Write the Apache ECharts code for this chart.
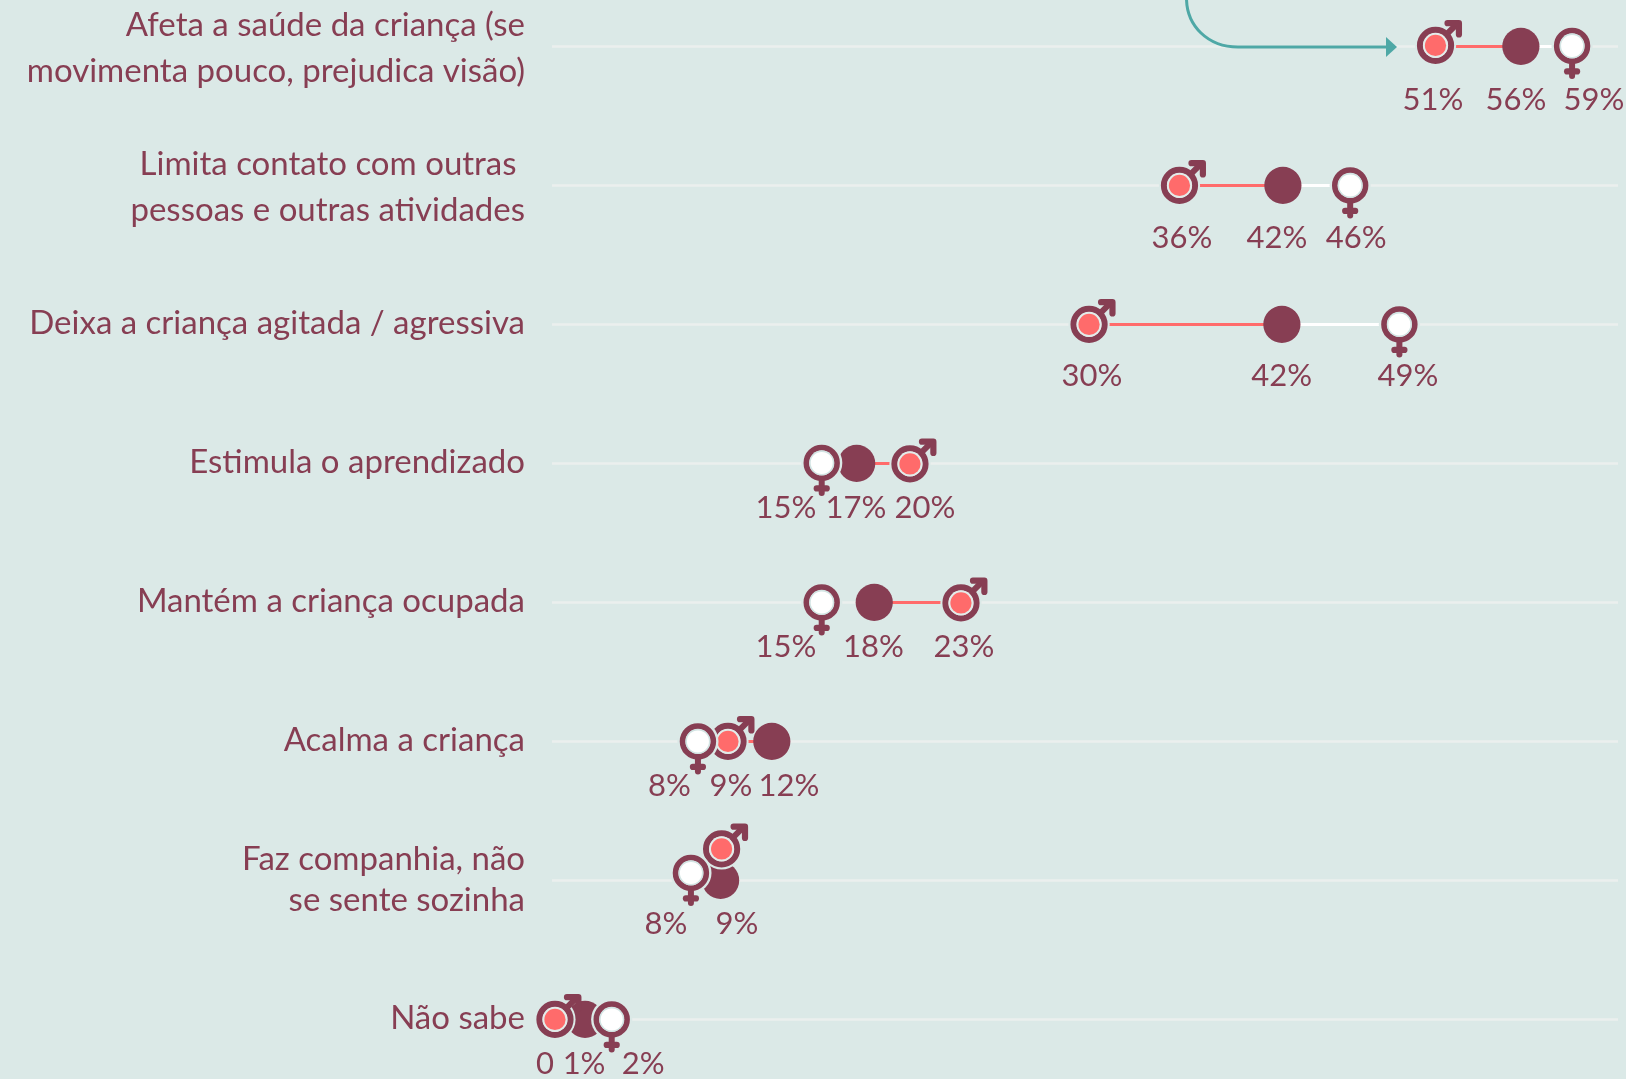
<!DOCTYPE html>
<html lang="pt">
<head>
<meta charset="utf-8">
<style>html,body{margin:0;padding:0;background:#dbe9e7}#c{width:1626px;height:1079px}</style>
<script src="https://cdn.jsdelivr.net/npm/echarts@6/dist/echarts.min.js"></script>
</head>
<body>
<div id="c"></div>
<script>
// ---------- data ----------
const categories = [
  'Afeta a saúde da criança (se\nmovimenta pouco, prejudica visão)',
  'Limita contato com outras \npessoas e outras atividades',
  'Deixa a criança agitada / agressiva',
  'Estimula o aprendizado',
  'Mantém a criança ocupada',
  'Acalma a criança',
  'Faz companhia, não\nse sente sozinha',
  'Não sabe'
];
const maleValues   = [51, 36, 30, 20, 23,  9, 9, 0];
const totalValues  = [56, 42, 42, 17, 18, 12, 9, 1];
const femaleValues = [59, 46, 49, 15, 15,  8, 8, 2];
const maleLabels   = ['51%', '36%', '30%', '20%', '23%', '9%', '', '0'];
const totalLabels  = ['56%', '42%', '42%', '17%', '18%', '12%', '9%', '1%'];
const femaleLabels = ['59%', '46%', '49%', '15%', '15%', '8%', '8%', '2%'];

// ---------- presentation: dodges applied by the original to avoid overlaps ----------
const maleDodgeX   = [0, 0, 12, 3.6, 3.4, 9.4, 3, -10];
const totalDodgeX  = [0, 1, 0, 1.5, 2, 2, 2, 3];
const femaleDodgeX = [0, 0, -2, 0.7, 0.7, -3.6, -10.6, 12.6];
const maleDodgeY   = [-1, 0, 0, 0.5, 0.5, 0, -31.5, 0];
const femaleDodgeY = [-0.5, 0, 0, -0.5, 0, 0, -7.5, 0];
const maleLabelDX   = [-2.6, 2.5, 14.9, 18.6, 6.4, 12.4, 0, -20];
const totalLabelDX  = [-4.9, -4.9, -0.3, 0.8, 1.3, 19.2, 18.4, 2];
const femaleLabelDX = [21.9, 6, 6.6, -35, -35, -32, -35.6, 44];
const labelDY = [53.5, 53, 51.5, 44.5, 44.5, 44.5, 43.5, 44.5];

const BG = '#dbe9e7', INK = '#873e53', SALMON = '#ff6b6b', GRID = '#ebefee', TEAL = '#4ea8a6';
const FONT = 'Lato';
const R = 18.6;

const seriesData = vals => vals.map((v, i) => [v, i]);

function dot(cx, cy, r, fill) {
  return { type: 'circle', shape: { cx, cy, r }, style: { fill } };
}
function ring(cx, cy, r, w) {
  return { type: 'circle', shape: { cx, cy, r: r - w / 2 }, style: { fill: 'none', stroke: INK, lineWidth: w } };
}
function seg(x1, y1, x2, y2, w) {
  return { type: 'line', shape: { x1, y1, x2, y2 }, style: { stroke: INK, lineWidth: w, lineCap: 'round' } };
}

const renderTotal = (p, api) => {
  const c = api.coord([api.value(0), api.value(1)]);
  return dot(c[0] + totalDodgeX[p.dataIndex], c[1], R, INK);
};
const renderMale = (p, api) => {
  const c = api.coord([api.value(0), api.value(1)]);
  const x = c[0] + maleDodgeX[p.dataIndex], y = c[1] + maleDodgeY[p.dataIndex];
  return { type: 'group', children: [
    dot(x, y, R + 2, BG),
    seg(x + 12, y - 12, x + 21, y - 21, 6),
    { type: 'polyline', shape: { points: [[x + 12, y - 22.2], [x + 23.4, y - 22.2], [x + 23.4, y - 11]] },
      style: { fill: 'none', stroke: INK, lineWidth: 6.2, lineJoin: 'round', lineCap: 'round' } },
    ring(x, y, R, 6.2),
    dot(x, y, 12.6, '#e3ecea'),
    dot(x, y, 10.6, SALMON)
  ]};
};
const renderFemale = (p, api) => {
  const c = api.coord([api.value(0), api.value(1)]);
  const x = c[0] + femaleDodgeX[p.dataIndex], y = c[1] + femaleDodgeY[p.dataIndex];
  return { type: 'group', children: [
    dot(x, y, R + 2, BG),
    seg(x, y + 18, x, y + 30, 6),
    seg(x - 5, y + 25.5, x + 5, y + 25.5, 6.2),
    ring(x, y, 18.2, 5.8),
    dot(x, y, 12.6, '#d2e4e3'),
    dot(x, y, 11, '#ffffff')
  ]};
};
const renderConnectors = (p, api) => {
  const i = p.dataIndex;
  const y = api.coord([0, i])[1];
  const a = api.coord([totalValues[i], i])[0] + totalDodgeX[i];
  const m = api.coord([maleValues[i], i])[0] + maleDodgeX[i];
  const f = api.coord([femaleValues[i], i])[0] + femaleDodgeX[i];
  const kids = [{ type: 'line', shape: { x1: a, y1: y, x2: m, y2: y }, style: { stroke: SALMON, lineWidth: 3 } }];
  if (femaleValues[i] > totalValues[i]) {
    kids.unshift({ type: 'line', shape: { x1: a, y1: y, x2: f, y2: y }, style: { stroke: '#ffffff', lineWidth: 3 } });
  }
  return { type: 'group', children: kids };
};
const labelRenderer = (texts, dx) => (p, api) => {
  const i = p.dataIndex;
  const c = api.coord([api.value(0), i]);
  return { type: 'text', style: {
    x: c[0] + dx[i], y: c[1] + labelDY[i], text: texts[i],
    font: '31px ' + FONT, fill: INK, align: 'center', verticalAlign: 'middle'
  }};
};
const custom = (name, data, renderItem, z) => ({
  type: 'custom', name, data, renderItem, z, silent: true, animation: false,
  encode: { x: 0, y: 1 }
});

function richCategory(v) {
  if (v.startsWith('Faz')) {
    const [a, b] = v.split('\n');
    return '{t|' + a + '}\n{tb|' + b + '}';
  }
  if (v.includes('\n')) {
    const [a, b] = v.split('\n');
    return '{dt|' + a + '}\n{d|' + b + '}';
  }
  return v.startsWith('Não') ? '{sl|' + v + '}' : '{s|' + v + '}';
}
const labelBase = { color: INK, fontFamily: FONT, fontSize: 33 };

const option = {
  backgroundColor: BG,
  animation: false,
  grid: { left: 552, right: 8, top: 46.4, bottom: 59.6, containLabel: false },
  xAxis: { type: 'value', min: -0.76, max: 61.69, show: false },
  yAxis: {
    type: 'category', inverse: true, boundaryGap: false, data: categories,
    axisLine: { show: false }, axisTick: { show: false },
    splitLine: { show: true, interval: 0, lineStyle: { color: GRID, width: 2.6 } },
    axisLabel: {
      margin: 27, align: 'right', color: INK, fontFamily: FONT, fontSize: 33, interval: 0,
      formatter: richCategory,
      rich: {
        s:  { ...labelBase, lineHeight: 46, padding: [0, 0, 3, 0] },
        sl: { ...labelBase, lineHeight: 46, padding: [0, 0, 2, 0] },
        dt: { ...labelBase, lineHeight: 50 },
        d:  { ...labelBase, lineHeight: 42 },
        t:  { ...labelBase, lineHeight: 39 },
        tb: { ...labelBase, lineHeight: 43 }
      }
    }
  },
  graphic: [
    { type: 'bezierCurve', z: 5, silent: true,
      shape: { x1: 1186.5, y1: -2, cpx1: 1186.5, cpy1: 26, cpx2: 1208, cpy2: 47, x2: 1238, y2: 47 },
      style: { fill: 'none', stroke: TEAL, lineWidth: 3 } },
    { type: 'line', z: 5, silent: true,
      shape: { x1: 1238, y1: 47, x2: 1388, y2: 47 }, style: { stroke: TEAL, lineWidth: 3 } },
    { type: 'polygon', z: 5, silent: true,
      shape: { points: [[1386, 37], [1397, 47], [1386, 57]] }, style: { fill: TEAL } }
  ],
  series: [
    custom('connectors', seriesData(totalValues), renderConnectors, 3),
    custom('Total', seriesData(totalValues), renderTotal, 4),
    custom('Homens', seriesData(maleValues), renderMale, 5),
    custom('Mulheres', seriesData(femaleValues), renderFemale, 6),
    custom('rótulos homens', seriesData(maleValues), labelRenderer(maleLabels, maleLabelDX), 7),
    custom('rótulos total', seriesData(totalValues), labelRenderer(totalLabels, totalLabelDX), 7),
    custom('rótulos mulheres', seriesData(femaleValues), labelRenderer(femaleLabels, femaleLabelDX), 7)
  ]
};
echarts.init(document.getElementById('c'), null, { renderer: 'canvas' }).setOption(option);
</script>
</body>
</html>
